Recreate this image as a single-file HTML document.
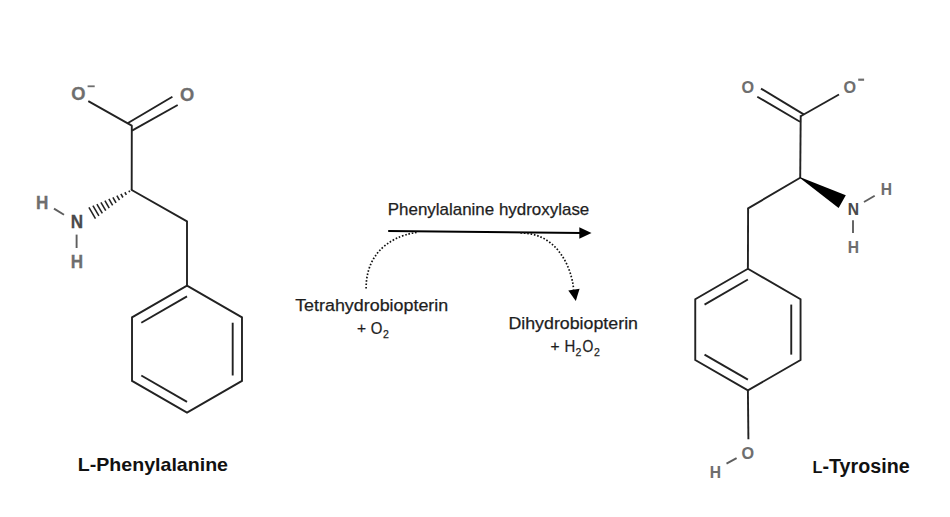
<!DOCTYPE html>
<html><head><meta charset="utf-8"><style>
html,body{margin:0;padding:0;background:#fff;}
svg{display:block;font-family:"Liberation Sans",sans-serif;}
</style></head><body>
<svg width="950" height="517" viewBox="0 0 950 517">
<rect width="950" height="517" fill="#fff"/>
<path d="M88.3,101.1 L128.2,123.7 L131.8,125.6 L131.7,190.0" fill="none" stroke="#222222" stroke-width="1.9" stroke-linejoin="bevel"/>
<line x1="127.60" y1="123.30" x2="172.40" y2="96.70" stroke="#222222" stroke-width="1.9" />
<line x1="132.00" y1="130.60" x2="177.70" y2="105.00" stroke="#222222" stroke-width="1.9" />
<line x1="131.70" y1="190.00" x2="187.00" y2="221.30" stroke="#222222" stroke-width="1.9" stroke-linecap="round"/>
<line x1="187.00" y1="221.30" x2="187.00" y2="285.60" stroke="#222222" stroke-width="1.9" />
<path d="M187.00,285.60 L241.99,317.35 L241.99,380.85 L187.00,412.60 L132.01,380.85 L132.01,317.35 Z" fill="none" stroke="#222222" stroke-width="1.9" stroke-linejoin="miter"/>
<line x1="141.31" y1="322.72" x2="187.00" y2="296.34" stroke="#222222" stroke-width="1.9" />
<line x1="232.69" y1="322.72" x2="232.69" y2="375.48" stroke="#222222" stroke-width="1.9" />
<line x1="187.00" y1="401.86" x2="141.31" y2="375.48" stroke="#222222" stroke-width="1.9" />
<line x1="129.81" y1="192.20" x2="128.85" y2="190.56" stroke="#222222" stroke-width="1.55" />
<line x1="126.38" y1="194.85" x2="124.86" y2="192.24" stroke="#222222" stroke-width="1.55" />
<line x1="122.94" y1="197.49" x2="120.87" y2="193.92" stroke="#222222" stroke-width="1.55" />
<line x1="119.51" y1="200.13" x2="116.87" y2="195.60" stroke="#222222" stroke-width="1.55" />
<line x1="116.07" y1="202.77" x2="112.88" y2="197.29" stroke="#222222" stroke-width="1.55" />
<line x1="112.64" y1="205.41" x2="108.89" y2="198.97" stroke="#222222" stroke-width="1.55" />
<line x1="109.21" y1="208.05" x2="104.90" y2="200.65" stroke="#222222" stroke-width="1.55" />
<line x1="105.77" y1="210.69" x2="100.91" y2="202.33" stroke="#222222" stroke-width="1.55" />
<line x1="102.34" y1="213.33" x2="96.91" y2="204.02" stroke="#222222" stroke-width="1.55" />
<line x1="98.90" y1="215.98" x2="92.92" y2="205.70" stroke="#222222" stroke-width="1.55" />
<line x1="95.47" y1="218.62" x2="88.93" y2="207.38" stroke="#222222" stroke-width="1.55" />
<text transform="translate(78.40,100.30) scale(1.0,1)" font-size="18.3" fill="#6e6e6e" stroke="#6e6e6e" stroke-width="0.3" font-weight="bold" text-anchor="middle">O</text>
<line x1="87.60" y1="86.30" x2="94.70" y2="86.30" stroke="#6e6e6e" stroke-width="1.8" />
<text transform="translate(187.10,101.20) scale(1.0,1)" font-size="18.3" fill="#6e6e6e" stroke="#6e6e6e" stroke-width="0.3" font-weight="bold" text-anchor="middle">O</text>
<text transform="translate(42.20,208.80) scale(0.95,1)" font-size="18" fill="#6e6e6e" stroke="#6e6e6e" stroke-width="0.3" font-weight="bold" text-anchor="middle">H</text>
<line x1="54.00" y1="208.60" x2="64.00" y2="214.70" stroke="#5e5e5e" stroke-width="1.9" />
<text transform="translate(76.80,228.20) scale(0.95,1)" font-size="18" fill="#4a4a4a" stroke="#4a4a4a" stroke-width="0.3" font-weight="bold" text-anchor="middle">N</text>
<line x1="76.60" y1="234.60" x2="76.60" y2="248.00" stroke="#5e5e5e" stroke-width="1.9" />
<text transform="translate(76.90,267.90) scale(0.95,1)" font-size="18" fill="#6e6e6e" stroke="#6e6e6e" stroke-width="0.3" font-weight="bold" text-anchor="middle">H</text>
<line x1="761.00" y1="88.60" x2="803.70" y2="114.40" stroke="#222222" stroke-width="1.9" />
<line x1="757.30" y1="96.70" x2="800.00" y2="121.70" stroke="#222222" stroke-width="1.9" />
<line x1="800.20" y1="116.50" x2="839.00" y2="94.50" stroke="#222222" stroke-width="1.9" />
<line x1="800.70" y1="115.60" x2="800.20" y2="177.70" stroke="#222222" stroke-width="1.9" />
<line x1="800.20" y1="177.70" x2="748.10" y2="208.40" stroke="#222222" stroke-width="1.9" stroke-linecap="round"/>
<line x1="748.10" y1="208.40" x2="747.90" y2="268.80" stroke="#222222" stroke-width="1.9" />
<path d="M747.90,268.80 L800.55,299.20 L800.55,360.00 L747.90,390.40 L695.25,360.00 L695.25,299.20 Z" fill="none" stroke="#222222" stroke-width="1.9" stroke-linejoin="miter"/>
<line x1="704.55" y1="304.57" x2="747.90" y2="279.54" stroke="#222222" stroke-width="1.9" />
<line x1="791.25" y1="304.57" x2="791.25" y2="354.63" stroke="#222222" stroke-width="1.9" />
<line x1="747.90" y1="379.66" x2="704.55" y2="354.63" stroke="#222222" stroke-width="1.9" />
<line x1="747.90" y1="390.40" x2="748.40" y2="439.30" stroke="#222222" stroke-width="1.9" />
<polygon points="799.7,176.89999999999998 800.6,178.6 838.6,207.9 845.8,195.3" fill="#000"/>
<text transform="translate(747.70,93.00) scale(0.95,1)" font-size="17" fill="#6e6e6e" stroke="#6e6e6e" stroke-width="0.1" font-weight="bold" text-anchor="middle">O</text>
<text transform="translate(849.70,93.00) scale(0.95,1)" font-size="17" fill="#6e6e6e" stroke="#6e6e6e" stroke-width="0.1" font-weight="bold" text-anchor="middle">O</text>
<line x1="858.20" y1="79.70" x2="864.10" y2="79.70" stroke="#6e6e6e" stroke-width="2.2" />
<text transform="translate(853.50,214.50) scale(0.92,1)" font-size="17" fill="#4a4a4a" stroke="#4a4a4a" stroke-width="0.1" font-weight="bold" text-anchor="middle">N</text>
<line x1="864.00" y1="202.00" x2="874.70" y2="195.70" stroke="#5e5e5e" stroke-width="1.9" />
<text transform="translate(886.30,195.00) scale(0.92,1)" font-size="17" fill="#6e6e6e" stroke="#6e6e6e" stroke-width="0.1" font-weight="bold" text-anchor="middle">H</text>
<line x1="853.00" y1="220.20" x2="853.00" y2="233.00" stroke="#5e5e5e" stroke-width="1.9" />
<text transform="translate(853.30,252.90) scale(0.92,1)" font-size="17" fill="#6e6e6e" stroke="#6e6e6e" stroke-width="0.1" font-weight="bold" text-anchor="middle">H</text>
<text transform="translate(747.70,458.90) scale(0.95,1)" font-size="17" fill="#6e6e6e" stroke="#6e6e6e" stroke-width="0.1" font-weight="bold" text-anchor="middle">O</text>
<line x1="726.50" y1="463.70" x2="736.60" y2="458.20" stroke="#5e5e5e" stroke-width="1.9" />
<text transform="translate(715.40,478.30) scale(0.92,1)" font-size="17" fill="#6e6e6e" stroke="#6e6e6e" stroke-width="0.1" font-weight="bold" text-anchor="middle">H</text>
<text x="387.80" y="214.80" font-size="17" fill="#1e1e1e" font-weight="normal" text-anchor="start" textLength="201.5" lengthAdjust="spacingAndGlyphs" stroke="#1e1e1e" stroke-width="0.25">Phenylalanine hydroxylase</text>
<line x1="388.20" y1="231.00" x2="582.00" y2="232.90" stroke="#000" stroke-width="2.0" />
<polygon points="579.3,227.3 591.5,233 579.3,238.8" fill="#000"/>
<path d="M366.1,288.6 C366.1,236.9 416.6,232.4 417.3,232.4" fill="none" stroke="#111" stroke-width="1.7" stroke-dasharray="1.6,1.8"/>
<path d="M520.4,233 C564.0,233 573.5,280.0 573.5,289.6" fill="none" stroke="#111" stroke-width="1.7" stroke-dasharray="1.6,1.8"/>
<polygon points="568.3,290.5 579.6,288.8 575.8,301" fill="#000"/>
<text x="295.20" y="310.60" font-size="17.3" fill="#1e1e1e" font-weight="normal" text-anchor="start" textLength="153.0" lengthAdjust="spacingAndGlyphs" stroke="#1e1e1e" stroke-width="0.25">Tetrahydrobiopterin</text>
<text transform="translate(361.60,333.30) scale(1.0,1)" font-size="15.5" fill="#1e1e1e" stroke="#1e1e1e" stroke-width="0.25" text-anchor="middle">+</text>
<text transform="translate(376.50,333.80) scale(0.88,1)" font-size="17" fill="#1e1e1e" stroke="#1e1e1e" stroke-width="0.25" text-anchor="middle">O</text>
<text transform="translate(385.90,337.60) scale(1.0,1)" font-size="10.5" fill="#1e1e1e" stroke="#1e1e1e" stroke-width="0.25" text-anchor="middle">2</text>
<text x="508.40" y="328.80" font-size="17" fill="#1e1e1e" font-weight="normal" text-anchor="start" textLength="129.6" lengthAdjust="spacingAndGlyphs" stroke="#1e1e1e" stroke-width="0.25">Dihydrobiopterin</text>
<text transform="translate(555.10,351.00) scale(1.0,1)" font-size="15.5" fill="#1e1e1e" stroke="#1e1e1e" stroke-width="0.25" text-anchor="middle">+</text>
<text transform="translate(570.00,351.70) scale(0.88,1)" font-size="17" fill="#1e1e1e" stroke="#1e1e1e" stroke-width="0.25" text-anchor="middle">H</text>
<text transform="translate(578.50,355.50) scale(1.0,1)" font-size="10.5" fill="#1e1e1e" stroke="#1e1e1e" stroke-width="0.25" text-anchor="middle">2</text>
<text transform="translate(587.80,351.70) scale(0.82,1)" font-size="17" fill="#1e1e1e" stroke="#1e1e1e" stroke-width="0.25" text-anchor="middle">O</text>
<text transform="translate(597.00,355.60) scale(1.0,1)" font-size="10.5" fill="#1e1e1e" stroke="#1e1e1e" stroke-width="0.25" text-anchor="middle">2</text>
<text x="77.80" y="471.00" font-size="19" fill="#111" font-weight="bold" text-anchor="start" textLength="150.2" lengthAdjust="spacingAndGlyphs" >L-Phenylalanine</text>
<text x="812.60" y="473.00" font-size="20" fill="#111" font-weight="bold" text-anchor="start" textLength="97.0" lengthAdjust="spacingAndGlyphs" ><tspan font-size="16.5">L</tspan>-Tyrosine</text>
</svg></body></html>
